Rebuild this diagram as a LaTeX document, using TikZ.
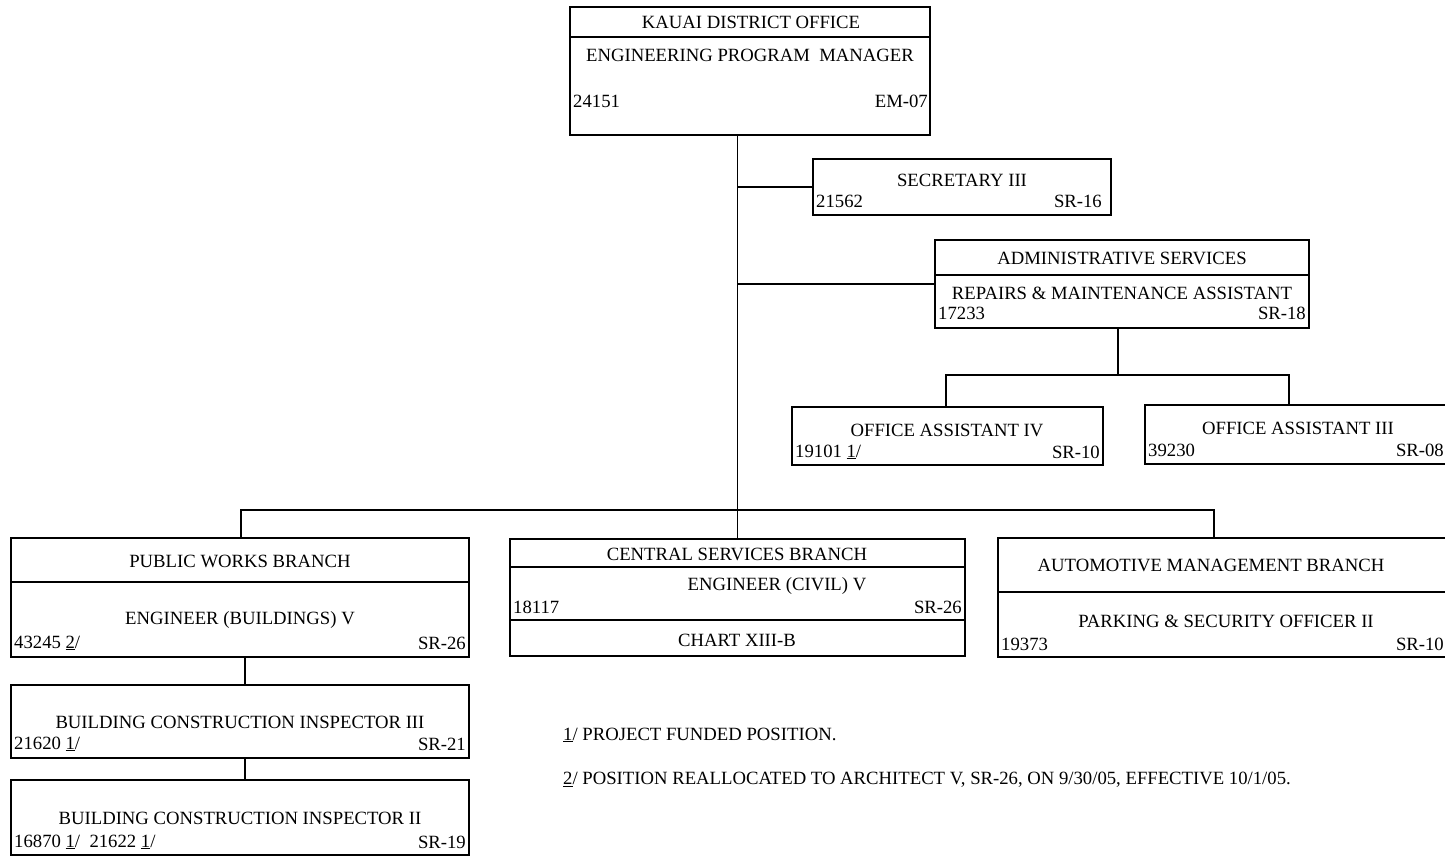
\documentclass[tikz,border=0pt]{standalone}
\usepackage{fontspec}
\setmainfont{Liberation Serif}
\begin{document}
\begin{tikzpicture}[x=1pt,y=-1pt,
  box/.style={draw, line width=1.6pt, rectangle, inner sep=0pt},
  conn/.style={line width=1.6pt},
  txt/.style={inner sep=0pt, font=\fontsize{18.7}{20}\selectfont},
  lt/.style={txt, anchor=west},
  rt/.style={txt, anchor=east}]
\useasboundingbox[fill=white] (0,0) rectangle (1445,856);
% boxes
\node[box, minimum width=360pt, minimum height=128pt] (kdo) at (750,71) {};
\node[box, minimum width=298pt, minimum height=56pt] (sec) at (962,187) {};
\node[box, minimum width=374pt, minimum height=88pt] (adm) at (1122,284) {};
\node[box, minimum width=311pt, minimum height=58pt] (oa4) at (947.5,436) {};
\node[box, minimum width=302pt, minimum height=59pt] (oa3) at (1296,434.5) {};
\node[box, minimum width=458pt, minimum height=119pt] (pw) at (240,597.5) {};
\node[box, minimum width=455pt, minimum height=117pt] (cs) at (737.5,597.5) {};
\node[box, minimum width=449pt, minimum height=119pt] (am) at (1222.5,597.5) {};
\node[box, minimum width=458pt, minimum height=73pt] (bi3) at (240,721.5) {};
\node[box, minimum width=458pt, minimum height=75pt] (bi2) at (240,817.5) {};
% dividers
\draw[conn] ([yshift=-31pt]kdo.north west) -- ([yshift=-31pt]kdo.north east);
\draw[conn] ([yshift=-36pt]adm.north west) -- ([yshift=-36pt]adm.north east);
\draw[conn] ([yshift=-45pt]pw.north west) -- ([yshift=-45pt]pw.north east);
\draw[conn] ([yshift=-29pt]cs.north west) -- ([yshift=-29pt]cs.north east);
\draw[conn] ([yshift=-82pt]cs.north west) -- ([yshift=-82pt]cs.north east);
\draw[conn] ([yshift=-55pt]am.north west) -- ([yshift=-55pt]am.north east);
% connectors
\coordinate (bus) at (738,510);
\coordinate (abus) at (1118,375);
\draw[conn] (kdo.south -| cs.north) -- (cs.north);
\draw[conn] (sec.west) -- (sec.west -| cs.north);
\draw[conn] (adm.west) -- (adm.west -| cs.north);
\draw[conn] (adm.south -| abus) -- (abus);
\draw[conn] ([xshift=-1.5pt]oa4.north) |- (abus) -| ([xshift=-7pt]oa3.north);
\draw[conn] ([xshift=1pt]pw.north) |- (bus) -| ([xshift=-8.5pt]am.north);
\draw[conn] ([xshift=5pt]pw.south) -- ([xshift=5pt]bi3.north);
\draw[conn] ([xshift=5pt]bi3.south) -- ([xshift=5pt]bi2.north);
% texts
\node[txt] (t1) at (751,22) {KAUAI DISTRICT OFFICE};
\node[txt] (t2) at (750,55) {ENGINEERING PROGRAM\ \ MANAGER};
\node[lt] (t3) at (573,101) {24151};
\node[rt] (t4) at (928,101) {EM-07};

\node[txt] (s1) at (962,180) {SECRETARY III};
\node[lt] (s2) at (816,201) {21562};
\node[rt] (s3) at (1102,201) {SR-16};

\node[txt] (a1) at (1122,258) {ADMINISTRATIVE SERVICES};
\node[txt] (a2) at (1122,293) {REPAIRS \& MAINTENANCE ASSISTANT};
\node[lt] (a3) at (938,313) {17233};
\node[rt] (a4) at (1306,313) {SR-18};

\node[txt] (o1) at (947,430) {OFFICE ASSISTANT IV};
\node[lt] (o2) at (795,452) {19101 \underline{1}/};
\node[rt] (o3) at (1100,452) {SR-10};

\node[txt] (p1) at (1298,428) {OFFICE ASSISTANT III};
\node[lt] (p2) at (1148,450) {39230};
\node[rt] (p3) at (1444,450) {SR-08};

\node[txt] (w1) at (240,561) {PUBLIC WORKS BRANCH};
\node[txt] (w2) at (240,620) {ENGINEER (BUILDINGS) V};
\node[lt] (w3) at (14,643) {43245 \underline{2}/};
\node[rt] (w4) at (466,643) {SR-26};

\node[txt] (c1) at (737,554) {CENTRAL SERVICES BRANCH};
\node[txt] (c2) at (777,586) {ENGINEER (CIVIL) V};
\node[lt] (c3) at (513,607) {18117};
\node[rt] (c4) at (962,607) {SR-26};
\node[txt] (c5) at (737,640) {CHART XIII-B};

\node[txt] (m1) at (1211,565) {AUTOMOTIVE MANAGEMENT BRANCH};
\node[txt] (m2) at (1226,621) {PARKING \& SECURITY OFFICER II};
\node[lt] (m3) at (1001,644) {19373};
\node[rt] (m4) at (1444,644) {SR-10};

\node[txt] (b1) at (240,722) {BUILDING CONSTRUCTION INSPECTOR III};
\node[lt] (b2) at (14,744) {21620 \underline{1}/};
\node[rt] (b3) at (466,744) {SR-21};

\node[txt] (d1) at (240,818) {BUILDING CONSTRUCTION INSPECTOR II};
\node[lt] (d2) at (14,842) {16870 \underline{1}/\ \ 21622 \underline{1}/};
\node[rt] (d3) at (466,842) {SR-19};

\node[lt] (n1) at (563,735) {\underline{1}/ PROJECT FUNDED POSITION.};
\node[lt] (n2) at (563,780) {\underline{2}/ POSITION REALLOCATED TO ARCHITECT V, SR-26, ON 9/30/05, EFFECTIVE 10/1/05.};
\end{tikzpicture}
\end{document}
